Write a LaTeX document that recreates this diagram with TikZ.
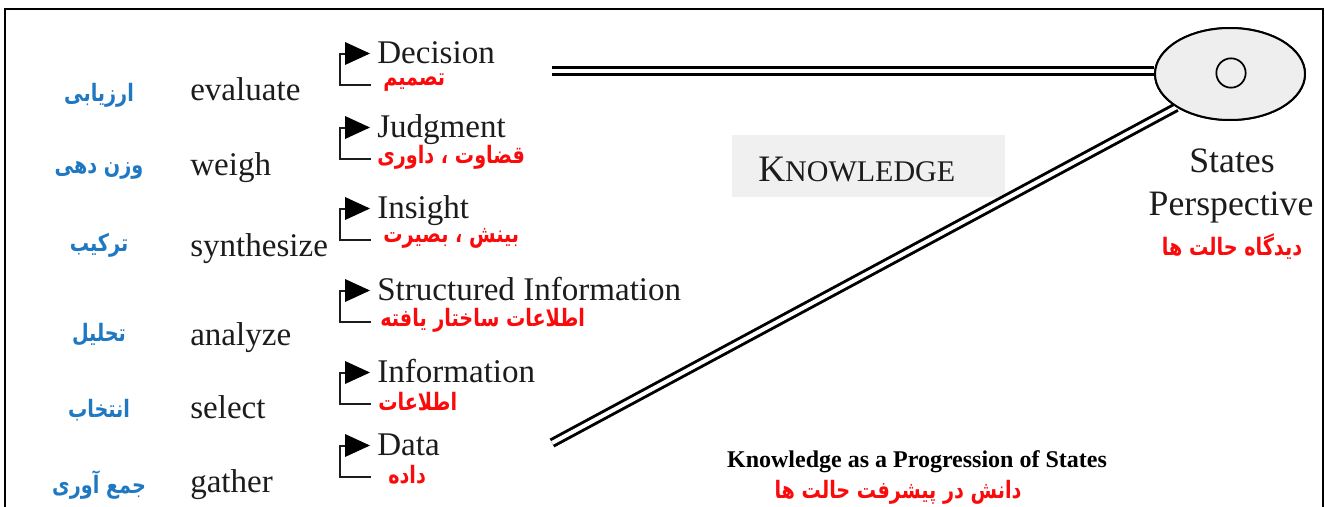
\documentclass[tikz,border=0pt]{standalone}
\usepackage{fontspec}
\setmainfont{Liberation Serif}
\newfontfamily\fafont[Script=Arabic,FakeStretch=0.8]{DejaVu Sans}
\TeXXeTstate=1
\usetikzlibrary{shapes.geometric}
\definecolor{faBlue}{RGB}{31,120,193}
\definecolor{faRed}{RGB}{250,10,10}
\definecolor{ink}{RGB}{28,28,28}
\definecolor{boxgray}{RGB}{240,240,240}
\definecolor{ellgray}{RGB}{238,238,238}

\begin{document}
\begin{tikzpicture}[x=0.75pt,y=-0.75pt,
  en/.style={font=\fontsize{24.8}{28}\selectfont, text=ink, inner sep=0pt, anchor=base west},
  faL/.style={font=\fafont\bfseries\fontsize{18}{21}\selectfont, text=faBlue, inner sep=0pt},
  faR/.style={font=\fafont\bfseries\fontsize{18}{21}\selectfont, text=faRed, inner sep=0pt, anchor=west},
  flagline/.style={line width=1.5pt, draw=ink},
  rail/.style={draw=black, double=white, line width=2.2pt, double distance=3pt}]
\useasboundingbox (0,0) rectangle (1325,507);

% frame, open at the bottom
\draw[line width=2pt] (5,507) -- (5,9) -- (1323,9) -- (1323,507);

% actions: Persian and English
\foreach \nm/\verb/\b/\per/\py in {
    ev/evaluate/100/ارزیابی/95,
    we/weigh/175/وزن دهی/170,
    sy/synthesize/256/ترکیب/245,
    an/analyze/345/تحلیل/335,
    se/select/418/انتخاب/410,
    ga/gather/492/جمع آوری/485}{
  \node[en] (v\nm) at (190,\b) {\verb};
  \node[faL] (f\nm) at (99,\py) {\beginR\per\endR};
}

% states with their flag markers
\foreach \nm/\lbl/\b/\per/\px in {
    dec/Decision/63/تصمیم/383,
    jud/Judgment/137/قضاوت ، داوری/377,
    ins/Insight/218/بینش ، بصیرت/383,
    str/Structured Information/300/اطلاعات ساختار یافته/380,
    inf/Information/382/اطلاعات/378,
    dat/Data/455/داده/388}{
  \node[en] (s\nm) at (377,\b) {\lbl};
  \node[faR] (p\nm) at (\px,\b+20) {\beginR\per\endR};
  \coordinate (t\nm) at (345,\b-9.5);
  \draw[flagline] (371,\b+22) -- (340,\b+22) -- (340,\b-9.5) -- (t\nm);
  \fill[black] (345,\b-21) -- (370,\b-9.5) -- (345,\b+2) -- cycle;
}

% knowledge label
\node[fill=boxgray, minimum width=204.75pt, minimum height=46.5pt, inner sep=0pt]
  (kbox) at (868.5,166) {};
\node[inner sep=0pt, anchor=base west, text=ink] (ktext) at (758,181)
  {{\fontsize{28}{30}\selectfont K}{\fontsize{22.5}{24}\selectfont NOWLEDGE}};

% rails into the states perspective
\coordinate (hstart) at (552,71);
\coordinate (dstart) at (552,443);
\node[ellipse, draw=black, line width=1.5pt, fill=ellgray, minimum width=112.5pt,
  minimum height=69pt, inner sep=0pt] (ell) at (1230,74) {};
\draw[rail] (hstart) -- (hstart -| ell.west);
\draw[rail] (dstart) -- (ell.south west);
\node[ellipse, draw=black, line width=1.5pt, fill=ellgray, minimum width=112.5pt,
  minimum height=69pt, inner sep=0pt] (ellcover) at (ell) {};
\node[circle, draw=black, line width=1.3pt, minimum size=22pt, inner sep=0pt] (dot) at (1231,73) {};

\node[font=\fontsize{26.8}{30}\selectfont, text=ink, inner sep=0pt, anchor=base] (st1) at (1232,172) {States};
\node[font=\fontsize{26.8}{30}\selectfont, text=ink, inner sep=0pt, anchor=base] (st2) at (1231,215) {Perspective};
\node[faR, anchor=center] (stfa) at (1232,247) {\beginR دیدگاه حالت ها\endR};

% caption
\node[font=\bfseries\fontsize{18}{20}\selectfont, text=black, inner sep=0pt, anchor=base] (cap) at (917,467)
  {Knowledge as a Progression of States};
\node[faR, anchor=center] (capfa) at (898,492) {\beginR دانش در پیشرفت حالت ها\endR};
\end{tikzpicture}
\end{document}
